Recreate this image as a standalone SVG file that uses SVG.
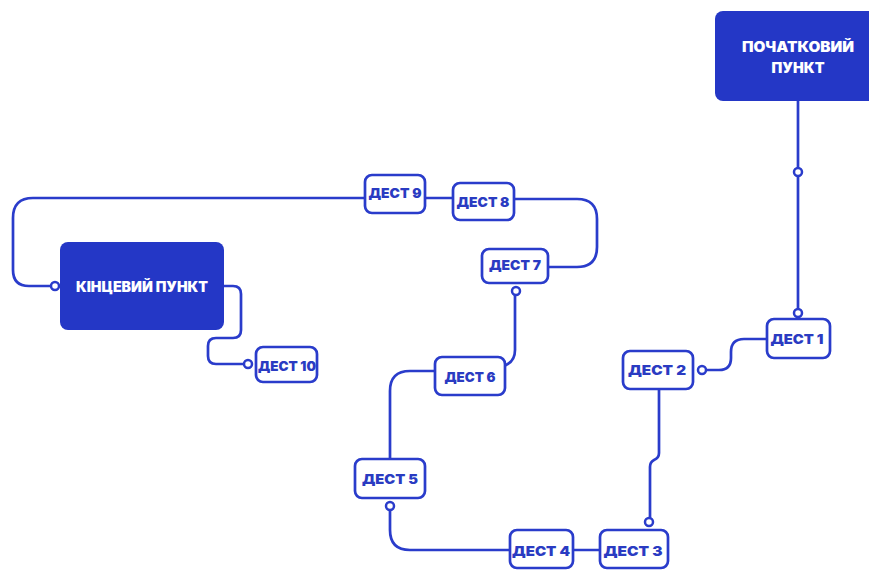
<svg xmlns="http://www.w3.org/2000/svg" width="869" height="570" viewBox="0 0 869 570">
<style>
.main{fill:#2437c6;}
.mt{fill:#ffffff;font-family:Inter,"Noto Sans",sans-serif;font-weight:900;font-size:14px;text-anchor:middle;dominant-baseline:central;}
.dest{fill:#ffffff;stroke:#2a3ccb;stroke-width:2.7;}
.dt{fill:#2a3bc2;font-family:Inter,"Noto Sans",sans-serif;font-weight:900;font-size:13.5px;text-anchor:middle;dominant-baseline:central;}
.ln{fill:none;stroke:#2a3ccb;stroke-width:2.7;stroke-linecap:round;stroke-linejoin:round;}
.dot{fill:#ffffff;stroke:#2a3ccb;stroke-width:2.5;}
</style>
<rect width="869" height="570" fill="#ffffff"/>
<g id="connectors">
<path class="ln" d="M798,101 V168"/>
<path class="ln" d="M798,176 V309"/>
<circle class="dot" cx="798" cy="172" r="4"/>
<circle class="dot" cx="798" cy="313" r="4"/>
<path class="ln" d="M767,339 H744 Q731,339 731,352 V358 Q731,370 719,370 H706"/>
<circle class="dot" cx="702" cy="370" r="4"/>
<path class="ln" d="M659,389 V453 Q659,458 654,460 Q650,462 650,467 V518"/>
<circle class="dot" cx="649" cy="522" r="4"/>
<path class="ln" d="M573,550 H600"/>
<path class="ln" d="M510,550 H410 Q390,550 390,530 V510"/>
<circle class="dot" cx="390" cy="506" r="4"/>
<path class="ln" d="M390,459 V391 Q390,371 410,371 H435"/>
<path class="ln" d="M506,365 Q515,361 515,350 V295"/>
<circle class="dot" cx="516" cy="291" r="4"/>
<path class="ln" d="M548,267 H577 Q597,267 597,247 V219 Q597,199 577,199 H514"/>
<path class="ln" d="M453,198 H425"/>
<path class="ln" d="M365,198 H33 Q13,198 13,218 V270 Q13,286 29,286 H51"/>
<circle class="dot" cx="55" cy="286" r="4"/>
<path class="ln" d="M224,286 H233 Q241,286 241,294 V330 Q241,338 233,338 H216 Q208,338 208,346 V356 Q208,364 216,364 H244"/>
<circle class="dot" cx="248" cy="364" r="4"/>
</g>
<g id="start">
<rect class="main" x="715" y="11" width="170" height="90" rx="8"/>
<text class="mt" x="798" y="46" textLength="112" lengthAdjust="spacingAndGlyphs">ПОЧАТКОВИЙ</text>
<text class="mt" x="798" y="67" textLength="53" lengthAdjust="spacingAndGlyphs">ПУНКТ</text>
</g>
<g id="end">
<rect class="main" x="60" y="242" width="164" height="88" rx="8"/>
<text class="mt" x="142" y="286" textLength="132" lengthAdjust="spacingAndGlyphs">КІНЦЕВИЙ ПУНКТ</text>
</g>
<g id="dest1">
<rect class="dest" x="767" y="319" width="63" height="39" rx="7"/>
<text class="dt" x="797" y="339" textLength="53" lengthAdjust="spacingAndGlyphs">ДЕСТ 1</text>
</g>
<g id="dest2">
<rect class="dest" x="623" y="351" width="70" height="38" rx="7"/>
<text class="dt" x="657" y="370" textLength="58" lengthAdjust="spacingAndGlyphs">ДЕСТ 2</text>
</g>
<g id="dest3">
<rect class="dest" x="600" y="530" width="68" height="38" rx="7"/>
<text class="dt" x="633" y="551" textLength="59" lengthAdjust="spacingAndGlyphs">ДЕСТ 3</text>
</g>
<g id="dest4">
<rect class="dest" x="510" y="530" width="63" height="38" rx="7"/>
<text class="dt" x="541" y="551" textLength="58" lengthAdjust="spacingAndGlyphs">ДЕСТ 4</text>
</g>
<g id="dest5">
<rect class="dest" x="355" y="459" width="70" height="39" rx="7"/>
<text class="dt" x="390" y="479" textLength="56" lengthAdjust="spacingAndGlyphs">ДЕСТ 5</text>
</g>
<g id="dest6">
<rect class="dest" x="435" y="357" width="70" height="38" rx="7"/>
<text class="dt" x="470" y="377" textLength="51" lengthAdjust="spacingAndGlyphs">ДЕСТ 6</text>
</g>
<g id="dest7">
<rect class="dest" x="482" y="249" width="66" height="34" rx="7"/>
<text class="dt" x="515" y="265" textLength="52" lengthAdjust="spacingAndGlyphs">ДЕСТ 7</text>
</g>
<g id="dest8">
<rect class="dest" x="453" y="183" width="61" height="37" rx="7"/>
<text class="dt" x="483" y="202" textLength="53" lengthAdjust="spacingAndGlyphs">ДЕСТ 8</text>
</g>
<g id="dest9">
<rect class="dest" x="365" y="175" width="60" height="38" rx="7"/>
<text class="dt" x="395" y="193" textLength="53" lengthAdjust="spacingAndGlyphs">ДЕСТ 9</text>
</g>
<g id="dest10">
<rect class="dest" x="256" y="347" width="61" height="35" rx="7"/>
<text class="dt" x="287" y="366" textLength="58" lengthAdjust="spacingAndGlyphs">ДЕСТ 10</text>
</g>
</svg>
